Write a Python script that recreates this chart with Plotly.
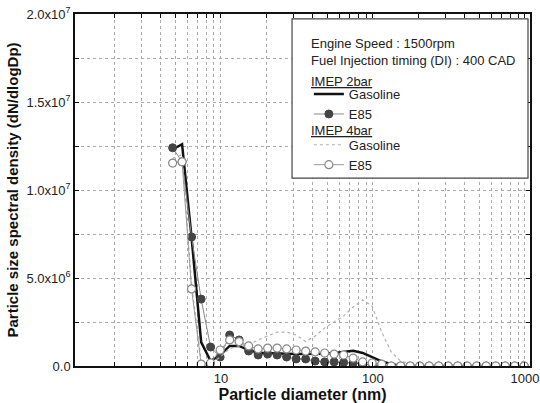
import plotly.graph_objects as go

# Particle diameters (nm)
diameter = [4.81, 5.55, 6.41, 7.41, 8.55, 9.88, 11.41, 13.17, 15.21, 17.57,
            20.29, 23.43, 27.05, 31.24, 36.08, 41.66, 48.11, 55.56, 64.16, 74.09,
            85.56, 98.81, 114.1, 131.8, 152.2, 175.7, 202.9, 234.3, 270.6, 312.5,
            360.9, 416.7, 481.2, 555.7, 641.7, 741.1, 855.8, 988.3]

gas_2bar = [1.23e7, 1.26e7, 7.3e6, 1.36e6, 2.8e5, 6.2e5, 1.14e6, 1.14e6, 9.1e5, 7.4e5,
            7.4e5, 7.0e5, 7.0e5, 6.8e5, 6.8e5, 6.8e5, 7.0e5, 7.4e5, 8.2e5, 8.7e5,
            7.4e5, 4.8e5, 2.6e5, 1.1e5, 0, 0, 0, 0, 0, 0,
            0, 0, 0, 0, 0, 0, 0, 0]

e85_2bar = [1.24e7, 1.16e7, 7.33e6, 3.8e6, 1.08e6, 5.1e5, 1.76e6, 1.48e6, 8.5e5, 6.25e5,
            6.8e5, 6.25e5, 5.1e5, 4.0e5, 4.0e5, 2.8e5, 2.3e5, 2.3e5, 2.0e5, 1.7e5,
            1.1e5, 6e4, 0, 0, 0, 0, 0, 0, 0, 0,
            0, 0, 0, 0, 0, 0, 0, 0]

gas_4bar = [1.18e7, 1.2e7, 4.6e6, 3.0e5, 1.5e5, 5.0e5, 1.0e6, 1.1e6, 1.2e6, 1.48e6,
            1.7e6, 1.93e6, 1.93e6, 1.76e6, 1.39e6, 1.7e6, 2.16e6, 2.5e6, 2.84e6, 3.35e6,
            3.75e6, 3.4e6, 1.93e6, 8.0e5, 2.8e5, 1.1e5, 0, 0, 0, 0,
            0, 0, 0, 0, 0, 0, 0, 3.0e5]

e85_4bar = [1.153e7, 1.16e7, 4.38e6, 1.1e5, 1.7e5, 9.1e5, 1.48e6, 1.38e6, 1.14e6, 9.7e5,
            1.02e6, 1.02e6, 9.7e5, 9.1e5, 8.5e5, 8.0e5, 7.4e5, 6.8e5, 6.25e5, 4.5e5,
            2.3e5, 1.7e5, 1.1e5, 0, 0, 0, 0, 0, 0, 0,
            0, 0, 0, 0, 0, 0, 0, 0]

x_tickvals = [2, 3, 4, 5, 6, 7, 8, 9, 10, 20, 30, 40, 50, 60, 70, 80, 90, 100,
              200, 300, 400, 500, 600, 700, 800, 900, 1000]
x_ticktext = ["" if v not in (10, 100, 1000) else str(v) for v in x_tickvals]

y_tickvals = [0, 2.5e6, 5e6, 7.5e6, 1e7, 1.25e7, 1.5e7, 1.75e7, 2e7]
y_ticktext = ["0.0", "", "5.0x10<sup>6</sup>", "", "1.0x10<sup>7</sup>", "",
              "1.5x10<sup>7</sup>", "", "2.0x10<sup>7</sup>"]

header_text = "Engine Speed : 1500rpm<br>Fuel Injection timing (DI) : 400 CAD"
group_2bar = "IMEP 2bar"
group_4bar = "IMEP 4bar"

FONT = "Liberation Sans, Arial, sans-serif"
TXT = "#222222"

fig = go.Figure()
fig.add_trace(go.Scatter(
    x=diameter, y=gas_2bar, mode="lines", name="Gasoline",
    line=dict(color="#111111", width=2.5), legend="legend"))
fig.add_trace(go.Scatter(
    x=diameter, y=e85_2bar, mode="lines+markers", name="E85",
    line=dict(color="#888888", width=1),
    marker=dict(symbol="circle", size=8, color="#444444", line=dict(color="#444444", width=1)),
    legend="legend"))
fig.add_trace(go.Scatter(
    x=diameter, y=gas_4bar, mode="lines", name="Gasoline",
    line=dict(color="#b0b0b0", width=1.2, dash="dot"), legend="legend2"))
fig.add_trace(go.Scatter(
    x=diameter, y=e85_4bar, mode="lines+markers", name="E85",
    line=dict(color="#999999", width=1),
    marker=dict(symbol="circle", size=8, color="white", line=dict(color="#888888", width=1.2)),
    legend="legend2"))

# legend frame (decoration)
fig.add_shape(type="rect", xref="paper", yref="paper",
              x0=0.477, x1=0.9956, y0=0.534, y1=0.986,
              line=dict(color="#444444", width=1.2), fillcolor="white", layer="above")

fig.add_annotation(xref="paper", yref="paper", x=0.514, y=0.944,
                   xanchor="left", yanchor="top", align="left", showarrow=False,
                   text=header_text, font=dict(family=FONT, size=13, color=TXT))
fig.add_annotation(xref="paper", yref="paper", x=0.514, y=0.809,
                   xanchor="left", yanchor="middle", align="left", showarrow=False,
                   text="<u>" + group_2bar + "</u>", font=dict(family=FONT, size=13, color=TXT))
fig.add_annotation(xref="paper", yref="paper", x=0.514, y=0.668,
                   xanchor="left", yanchor="middle", align="left", showarrow=False,
                   text="<u>" + group_4bar + "</u>", font=dict(family=FONT, size=13, color=TXT))

legend_style = dict(xanchor="left", yanchor="top",
                    bgcolor="rgba(0,0,0,0)", borderwidth=0,
                    font=dict(family=FONT, size=13, color=TXT),
                    tracegroupgap=0, itemwidth=30)

fig.update_layout(
    width=540, height=403,
    margin=dict(l=75, r=10, t=14, b=37),
    paper_bgcolor="white", plot_bgcolor="white",
    font=dict(family=FONT, size=13, color=TXT),
    showlegend=True,
    legend=dict(x=0.514, y=0.815, **legend_style),
    legend2=dict(x=0.514, y=0.671, **legend_style),
    xaxis=dict(
        type="log", range=[0.04, 3.033], automargin=False,
        tickvals=x_tickvals, ticktext=x_ticktext,
        ticks="inside", ticklen=4, tickcolor="#111111",
        showline=True, linecolor="#111111", linewidth=1.5, mirror="ticks",
        showgrid=True, gridcolor="#aaaaaa", griddash="dot", gridwidth=1,
        zeroline=False,
        tickfont=dict(family=FONT, size=13, color=TXT),
        title=dict(text="<b>Particle diameter (nm)</b>",
                   font=dict(family=FONT, size=16, color="#111111"), standoff=0),
    ),
    yaxis=dict(
        range=[0, 2e7], automargin=False,
        tickvals=y_tickvals, ticktext=y_ticktext,
        ticks="inside", ticklen=4, tickcolor="#111111",
        showline=True, linecolor="#111111", linewidth=1.5, mirror="ticks",
        showgrid=True, gridcolor="#aaaaaa", griddash="dot", gridwidth=1,
        zeroline=False,
        tickfont=dict(family=FONT, size=13, color=TXT),
        title=dict(text="<b>Particle size spectral density (dN/dlogDp)</b>",
                   font=dict(family=FONT, size=15, color="#111111"), standoff=4),
    ),
)

fig.write_html("out.html")
